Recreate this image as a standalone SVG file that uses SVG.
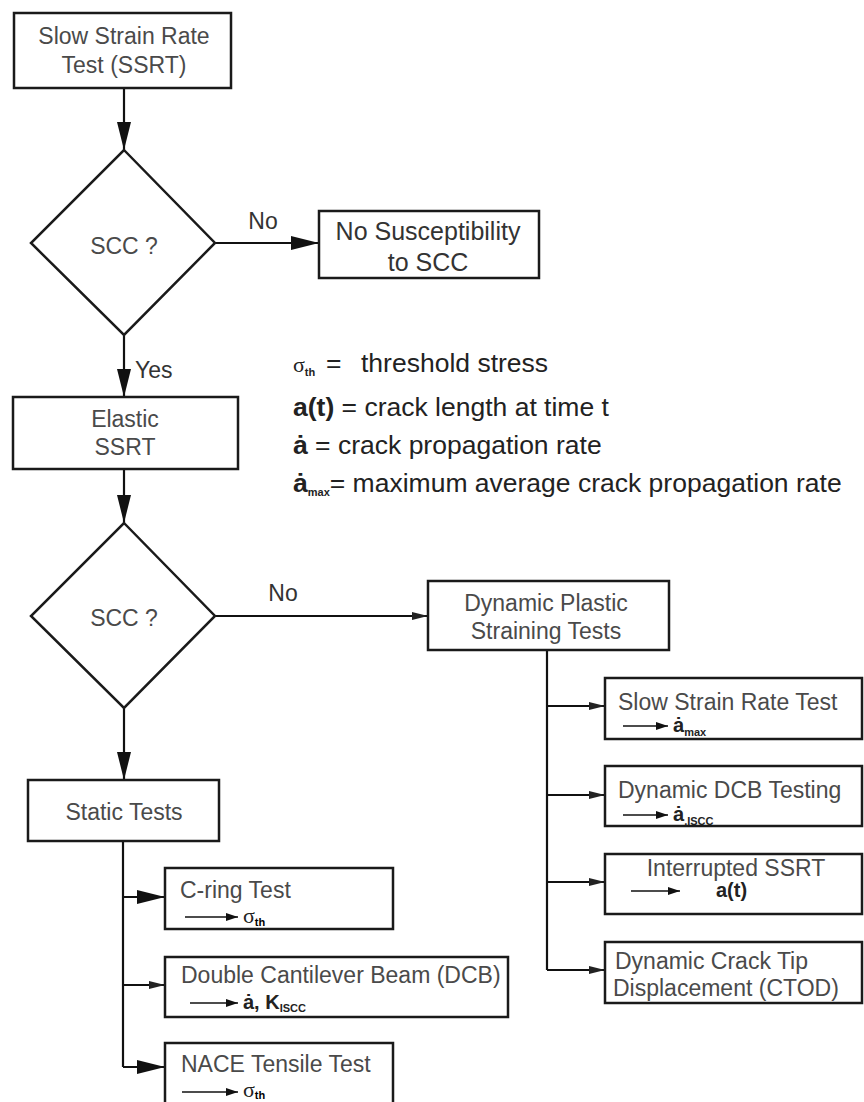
<svg xmlns="http://www.w3.org/2000/svg" width="864" height="1102" viewBox="0 0 864 1102">
  <style>
    .box { fill: #ffffff; stroke: #1a1a1a; stroke-width: 2.5; }
    .dia { fill: #ffffff; stroke: #1a1a1a; stroke-width: 2.5; stroke-linejoin: miter; }
    .conn { fill: none; stroke: #111111; stroke-width: 2.2; }
    .thin { fill: none; stroke: #111111; stroke-width: 1.4; }
    text { font-family: "Liberation Sans", Arial, Helvetica, sans-serif; }
    .t { font-size: 23px; fill: #4a4a4a; }
    .tb { font-size: 25px; fill: #333333; }
    .lab { font-size: 23px; fill: #333333; }
    .leg { font-size: 26.5px; fill: #222222; }
    .sym { font-size: 20px; font-weight: bold; fill: #222222; }
    .sub { font-size: 11px; font-weight: bold; }
    .sig { font-family: "Liberation Serif", "Times New Roman", serif; font-size: 22px; fill: #222222; }
  </style>
  <defs>
    <marker id="ah" viewBox="0 0 28 14" refX="28" refY="7" markerWidth="28" markerHeight="14" markerUnits="userSpaceOnUse" orient="auto">
      <path d="M0,0 L28,7 L0,14 z" fill="#111111"/>
    </marker>
    <marker id="as" viewBox="0 0 16 10" refX="16" refY="5" markerWidth="16" markerHeight="10" markerUnits="userSpaceOnUse" orient="auto">
      <path d="M0,1 L16,5 L0,9 z" fill="#222222"/>
    </marker>
    <marker id="ai" viewBox="0 0 12 8" refX="12" refY="4" markerWidth="12" markerHeight="8" markerUnits="userSpaceOnUse" orient="auto">
      <path d="M0,0 L12,4 L0,8 z" fill="#111111"/>
    </marker>
  </defs>

  <rect width="864" height="1102" fill="#ffffff"/>

  <!-- connectors -->
  <g id="connectors">
    <path class="conn" d="M124,88 L124,150" marker-end="url(#ah)"/>
    <path class="conn" d="M215,243 L319,243" marker-end="url(#ah)"/>
    <path class="conn" d="M124,335 L124,397" marker-end="url(#ah)"/>
    <path class="conn" d="M124,469 L124,523" marker-end="url(#ah)"/>
    <path class="conn" d="M215,616 L428,616" marker-end="url(#as)"/>
    <path class="conn" d="M124,708 L124,780" marker-end="url(#ah)"/>
    <!-- static test branches -->
    <path class="conn" d="M123,841 L123,1067"/>
    <path class="conn" d="M123,897 L165,897" marker-end="url(#ah)"/>
    <path class="conn" d="M123,985 L165,985" marker-end="url(#as)"/>
    <path class="conn" d="M123,1067 L165,1067" marker-end="url(#ah)"/>
    <!-- dynamic test branches -->
    <path class="conn" d="M547,650 L547,970"/>
    <path class="conn" d="M547,706 L605,706" marker-end="url(#as)"/>
    <path class="conn" d="M547,795 L605,795" marker-end="url(#as)"/>
    <path class="conn" d="M547,882 L605,882" marker-end="url(#as)"/>
    <path class="conn" d="M547,970 L605,970" marker-end="url(#as)"/>
    <!-- branch labels -->
    <text class="lab" x="263" y="229" text-anchor="middle">No</text>
    <text class="lab" x="135" y="378">Yes</text>
    <text class="lab" x="283" y="601" text-anchor="middle">No</text>
  </g>

  <g id="ssrt">
    <rect class="box" x="14" y="13" width="217" height="75"/>
    <text class="t" x="124" y="44" text-anchor="middle">Slow Strain Rate</text>
    <text class="t" x="124" y="73" text-anchor="middle">Test (SSRT)</text>
  </g>

  <g id="scc1">
    <polygon class="dia" points="124,150 215,243 124,335 31,243"/>
    <text class="t" x="124" y="254" text-anchor="middle">SCC ?</text>
  </g>

  <g id="no-susceptibility">
    <rect class="box" x="319" y="211" width="220" height="67"/>
    <text class="tb" x="428" y="240" text-anchor="middle">No Susceptibility</text>
    <text class="tb" x="428" y="271" text-anchor="middle">to SCC</text>
  </g>

  <g id="legend">
    <text class="leg" y="372"><tspan class="sig" x="293">σ</tspan><tspan class="sub" dy="4">th</tspan><tspan x="326" dy="-4">=</tspan><tspan x="361">threshold stress</tspan></text>
    <text class="leg" x="293" y="416"><tspan font-weight="bold">a(t)</tspan> = crack length at time t</text>
    <text class="leg" x="293" y="454"><tspan font-weight="bold">ȧ</tspan> = crack propagation rate</text>
    <text class="leg" x="293" y="492"><tspan font-weight="bold">ȧ</tspan><tspan class="sub" dy="4">max</tspan><tspan dy="-4">= maximum average crack propagation rate</tspan></text>
  </g>

  <g id="elastic-ssrt">
    <rect class="box" x="13" y="397" width="225" height="72"/>
    <text class="t" x="125" y="427" text-anchor="middle">Elastic</text>
    <text class="t" x="125" y="455" text-anchor="middle">SSRT</text>
  </g>

  <g id="scc2">
    <polygon class="dia" points="124,523 215,616 124,708 31,616"/>
    <text class="t" x="124" y="626" text-anchor="middle">SCC ?</text>
  </g>

  <g id="dynamic-plastic">
    <rect class="box" x="428" y="581" width="241" height="69"/>
    <text class="t" x="546" y="611" text-anchor="middle">Dynamic Plastic</text>
    <text class="t" x="546" y="639" text-anchor="middle">Straining Tests</text>
  </g>

  <g id="static-tests">
    <rect class="box" x="28" y="780" width="191" height="61"/>
    <text class="t" x="124" y="820" text-anchor="middle">Static Tests</text>
  </g>

  <g id="c-ring">
    <rect class="box" x="165" y="868" width="228" height="61"/>
    <text class="t" x="180" y="898">C-ring Test</text>
    <path class="thin" d="M185,917 L238,917" marker-end="url(#ai)"/>
    <text y="923"><tspan class="sig" x="243">σ</tspan><tspan class="sub" dy="3">th</tspan></text>
  </g>

  <g id="dcb">
    <rect class="box" x="165" y="957" width="343" height="60"/>
    <text class="t" x="181" y="983">Double Cantilever Beam (DCB)</text>
    <path class="thin" d="M190,1003 L238,1003" marker-end="url(#ai)"/>
    <text class="sym" x="243" y="1009">ȧ, K<tspan class="sub" dy="3">ISCC</tspan></text>
  </g>

  <g id="nace">
    <rect class="box" x="165" y="1043" width="228" height="66"/>
    <text class="t" x="181" y="1072">NACE Tensile Test</text>
    <path class="thin" d="M182,1092 L238,1092" marker-end="url(#ai)"/>
    <text y="1097"><tspan class="sig" x="243" font-size="20">σ</tspan><tspan class="sub" dy="2">th</tspan></text>
  </g>

  <g id="slow-strain-rate">
    <rect class="box" x="605" y="678" width="257" height="61"/>
    <text class="t" x="618" y="710">Slow Strain Rate Test</text>
    <path class="thin" d="M623,726 L668,726" marker-end="url(#ai)"/>
    <text class="sym" x="673" y="732">ȧ<tspan class="sub" dy="4">max</tspan></text>
  </g>

  <g id="dynamic-dcb">
    <rect class="box" x="605" y="766" width="257" height="60"/>
    <text class="t" x="618" y="798">Dynamic DCB Testing</text>
    <path class="thin" d="M623,815 L668,815" marker-end="url(#ai)"/>
    <text class="sym" x="673" y="821">ȧ<tspan class="sub" dy="4">,ISCC</tspan></text>
  </g>

  <g id="interrupted-ssrt">
    <rect class="box" x="605" y="854" width="257" height="60"/>
    <text class="t" x="736" y="876" text-anchor="middle">Interrupted SSRT</text>
    <path class="thin" d="M631,891 L680,891" marker-end="url(#ai)"/>
    <text class="sym" x="716" y="897">a(t)</text>
  </g>

  <g id="ctod">
    <rect class="box" x="605" y="942" width="257" height="61"/>
    <text class="t" x="615" y="969">Dynamic Crack Tip</text>
    <text class="t" x="613" y="996">Displacement (CTOD)</text>
  </g>
</svg>
